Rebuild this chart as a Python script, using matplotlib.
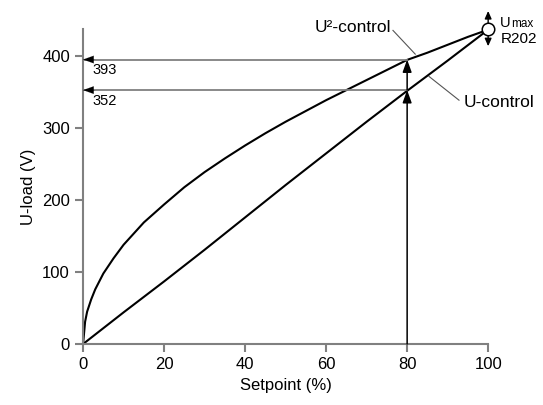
import matplotlib.pyplot as plt

plt.rcParams['font.family'] = ['Liberation Sans', 'DejaVu Sans']

# setpoint (%) and load voltage (V)
sp_u2 = [0, 0.5, 1, 2, 3, 5, 7.5, 10, 15, 20, 25, 30, 35, 40, 45, 50, 55, 60, 65, 70, 75, 80, 85, 90, 95, 100]
u2_ctrl = [0, 31, 45, 62, 76, 98, 119, 138, 169, 194, 218, 239, 258, 276, 293, 309, 324, 339, 353, 367, 381, 395, 405, 416, 427, 437]
sp_u = [0, 10, 20, 30, 40, 50, 60, 70, 80, 90, 100]
u_ctrl = [0, 44, 87, 131, 176, 221, 265, 309, 352, 394, 437]
mark_labels = ['393', '352']
mark_levels = [395.5, 353]   # where the reading lines sit in the picture
sp_mark = 80

fig = plt.figure(figsize=(5.43, 4.05), dpi=100)
ax = fig.add_axes([0.153, 0.1506, 0.746, 0.777])

ax.plot(sp_u2, u2_ctrl, color='black', lw=1.5)
ax.plot(sp_u, u_ctrl, color='black', lw=1.5)

head = '-|>,head_length=0.75,head_width=0.27'

# reading arrows at 80 %
for lab, v in zip(mark_labels, mark_levels):
    ax.plot([0, sp_mark], [v, v], color='#808080', lw=1.3)
    ax.annotate('', xy=(0, v), xytext=(3, v),
                arrowprops=dict(arrowstyle=head, color='black', lw=0.1,
                                shrinkA=0, shrinkB=0))
    ax.text(2.2, v - 5, lab, fontsize=10.5, va='top', ha='left')
lo, hi = sorted(mark_levels)
ax.annotate('', xy=(sp_mark, lo), xytext=(sp_mark, 0),
            arrowprops=dict(arrowstyle=head, color='black', lw=1.1, shrinkA=0, shrinkB=0))
ax.annotate('', xy=(sp_mark, hi), xytext=(sp_mark, lo),
            arrowprops=dict(arrowstyle=head, color='black', lw=1.1, shrinkA=0, shrinkB=0))

# curve labels with leader lines
ax.text(66.7, 440, 'U²-control', fontsize=12.5, ha='center', va='center', clip_on=False)
ax.plot([76.5, 82], [436, 403], color='#555555', lw=0.8, clip_on=False)
ax.text(102.7, 336, 'U-control', fontsize=12.5, ha='center', va='center', clip_on=False)
ax.plot([85.4, 92.8], [372, 339], color='#555555', lw=0.8, clip_on=False)

# Umax point
ax.plot([100], [438], marker='o', ms=9, mfc='white', mec='black', mew=1.1, clip_on=False, zorder=5)
ax.annotate('', xy=(100, 463), xytext=(100, 446), annotation_clip=False,
            arrowprops=dict(arrowstyle='-|>,head_length=0.45,head_width=0.2',
                            color='black', lw=1, shrinkA=0, shrinkB=0))
ax.annotate('', xy=(100, 414), xytext=(100, 431), annotation_clip=False,
            arrowprops=dict(arrowstyle='-|>,head_length=0.45,head_width=0.2',
                            color='black', lw=1, shrinkA=0, shrinkB=0))
ax.text(103, 441, 'U', fontsize=10.5, ha='left', va='baseline', clip_on=False)
ax.text(105.6, 441, 'max', fontsize=8.5, ha='left', va='baseline', clip_on=False)
ax.text(103, 418, 'R202', fontsize=11, ha='left', va='baseline', clip_on=False)

ax.set_xlim(0, 100)
ax.set_ylim(0, 437.5)
ax.set_xticks([0, 20, 40, 60, 80, 100])
ax.set_yticks([0, 100, 200, 300, 400])
for s in ['top', 'right']:
    ax.spines[s].set_visible(False)
for s in ['left', 'bottom']:
    ax.spines[s].set_color('#808080')
    ax.spines[s].set_linewidth(1.5)
ax.tick_params(colors='#808080', labelcolor='black', labelsize=12, length=6, width=1.5)
ax.set_xlabel('Setpoint (%)', fontsize=12)
ax.set_ylabel('U-load (V)', fontsize=12)

fig.savefig('out.png', dpi=100)
